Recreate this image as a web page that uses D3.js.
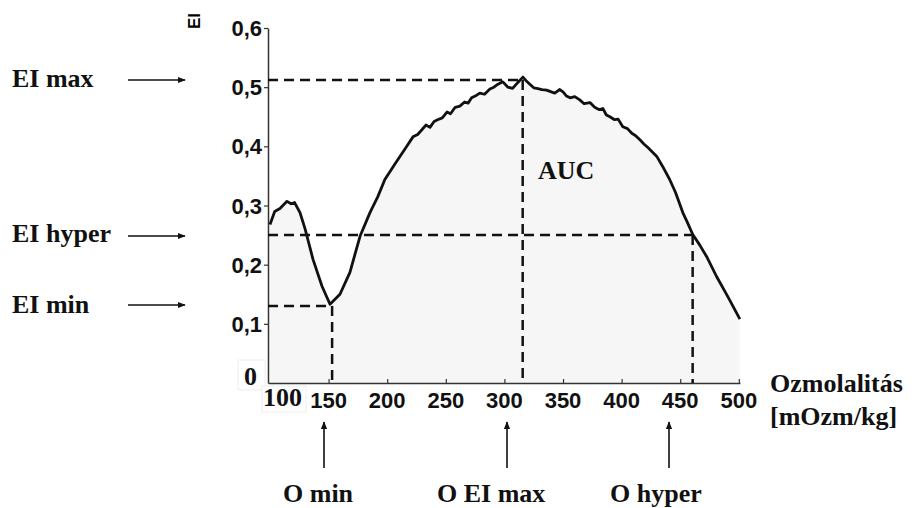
<!DOCTYPE html>
<html>
<head>
<meta charset="utf-8">
<script src="https://cdn.jsdelivr.net/npm/d3@7"></script>
<style>
  body { margin: 0; background: #fff; }
  .tick-label { font-family: "Liberation Sans", Arial, sans-serif; font-weight: bold; font-size: 22px; fill: #111; }
  .note { font-family: "Liberation Serif", "Times New Roman", serif; font-weight: bold; font-size: 26px; fill: #111; }
</style>
</head>
<body>
<div id="chart"></div>
<script>
// 1. Data
const osmolality = [100, 104, 108.5, 114.5, 118, 121, 125.6, 130, 136.7, 144.3, 151.2, 159.7, 168.2, 176.8,
  185.3, 192, 198, 206.6, 215, 222, 226, 229.6, 233, 236.5, 240, 243, 247, 251, 254, 258, 262, 266, 269, 272,
  276, 279, 283, 287.6, 291, 294.5, 298.7, 303, 307, 311.5, 315.8, 318.5, 321.7, 325, 327.7, 332, 336, 340,
  343, 347, 350, 353, 356, 360, 364, 368, 373, 377, 381, 384, 387, 390, 394, 397, 401, 405, 408.7, 412,
  415.6, 419, 422.4, 426, 430, 435, 441, 446, 452.2, 456, 460.7, 466.7, 473, 481, 490.6, 500.9];
const eiValues = [0.268, 0.290, 0.295, 0.307, 0.303, 0.305, 0.288, 0.260, 0.209, 0.164, 0.133, 0.150, 0.187, 0.248,
  0.288, 0.315, 0.344, 0.370, 0.395, 0.416, 0.420, 0.428, 0.436, 0.432, 0.442, 0.445, 0.448, 0.458, 0.455, 0.466,
  0.468, 0.475, 0.473, 0.482, 0.486, 0.490, 0.488, 0.497, 0.500, 0.505, 0.509, 0.500, 0.498, 0.508, 0.517, 0.511,
  0.505, 0.499, 0.498, 0.496, 0.495, 0.492, 0.490, 0.496, 0.492, 0.485, 0.482, 0.484, 0.479, 0.472, 0.474, 0.466,
  0.462, 0.464, 0.453, 0.450, 0.445, 0.446, 0.433, 0.430, 0.422, 0.418, 0.411, 0.404, 0.398, 0.391, 0.383, 0.366,
  0.344, 0.322, 0.288, 0.272, 0.251, 0.233, 0.212, 0.180, 0.146, 0.108];

const xTicks = [150, 200, 250, 300, 350, 400, 450, 500];
const yTicks = [0.1, 0.2, 0.3, 0.4, 0.5, 0.6];

// reference points (osmolality, EI)
const eiMax = [315.6, 0.512];
const eiHyper = [460.6, 0.25];
const eiMin = [153, 0.13];

// 2. Size
const WIDTH = 915, HEIGHT = 508;
const svg = d3.select("#chart").append("svg")
  .attr("width", WIDTH)
  .attr("height", HEIGHT);

// 3. Scales
const xScale = d3.scaleLinear().domain([98.3, 501]).range([268, 740]);
const yScale = d3.scaleLinear().domain([0, 0.6]).range([383, 28]);

const points = osmolality.map((x, i) => ({ x: x, y: eiValues[i] }));

// 4. Area under the curve (AUC)
svg.append("path")
  .datum(points)
  .attr("fill", "#f6f6f6")
  .attr("d", d3.area().x(d => xScale(d.x)).y0(yScale(0)).y1(d => yScale(d.y)));

// 5. Axes
const xAxis = d3.axisBottom(xScale).tickValues(xTicks).tickSize(-4).tickSizeOuter(0).tickFormat("");
const yAxis = d3.axisLeft(yScale).tickValues(yTicks).tickSize(4).tickSizeOuter(0).tickFormat("");

const gx = svg.append("g").attr("transform", `translate(0,${yScale(0)})`).call(xAxis);
const gy = svg.append("g").attr("transform", `translate(${xScale.range()[0]},0)`).call(yAxis);
[gx, gy].forEach(g => {
  g.select(".domain").attr("stroke", "#333").attr("stroke-width", 1.5);
  g.selectAll(".tick line").attr("stroke", "#333").attr("stroke-width", 1.2);
});

svg.selectAll(".x-label")
  .data(xTicks)
  .enter()
  .append("text")
  .attr("class", "tick-label")
  .attr("x", d => xScale(d))
  .attr("y", 408)
  .attr("text-anchor", "middle")
  .text(d => d);

svg.selectAll(".y-label")
  .data(yTicks)
  .enter()
  .append("text")
  .attr("class", "tick-label")
  .attr("x", 262)
  .attr("y", d => yScale(d) + 8)
  .attr("text-anchor", "end")
  .text(d => d.toFixed(1).replace(".", ","));

// pasted boxes for "0" and "100"
svg.append("rect").attr("x", 238).attr("y", 360).attr("width", 27).attr("height", 30)
  .attr("fill", "#fff").attr("stroke", "#eee");
svg.append("text").attr("class", "note").attr("x", 244).attr("y", 385).text("0");
svg.append("rect").attr("x", 262).attr("y", 386).attr("width", 44).attr("height", 26)
  .attr("fill", "#fff").attr("stroke", "#eee");
svg.append("text").attr("class", "note").attr("x", 263).attr("y", 406).text("100");

// EI axis title
svg.append("text")
  .attr("transform", "translate(200,21) rotate(-90)")
  .attr("text-anchor", "middle")
  .style("font-family", "Liberation Sans, Arial, sans-serif")
  .style("font-weight", "bold")
  .style("font-size", "17px")
  .text("EI");

// 6. Dashed guide lines
const guides = [
  [[xScale.domain()[0], eiMax[1]], [eiMax[0], eiMax[1]]],
  [[eiMax[0], eiMax[1]], [eiMax[0], 0]],
  [[xScale.domain()[0], eiHyper[1]], [eiHyper[0], eiHyper[1]]],
  [[eiHyper[0], eiHyper[1]], [eiHyper[0], 0]],
  [[xScale.domain()[0], eiMin[1]], [eiMin[0], eiMin[1]]],
  [[eiMin[0], eiMin[1]], [eiMin[0], 0]]
];
svg.selectAll(".guide")
  .data(guides)
  .enter()
  .append("line")
  .attr("x1", d => xScale(d[0][0]))
  .attr("y1", d => yScale(d[0][1]))
  .attr("x2", d => xScale(d[1][0]))
  .attr("y2", d => yScale(d[1][1]))
  .attr("stroke", "#111")
  .attr("stroke-width", 2.5)
  .attr("stroke-dasharray", "10,6");

// 7. The curve
svg.append("path")
  .datum(points)
  .attr("fill", "none")
  .attr("stroke", "#111")
  .attr("stroke-width", 2.8)
  .attr("stroke-linejoin", "round")
  .attr("d", d3.line().x(d => xScale(d.x)).y(d => yScale(d.y)));

// 8. Annotations with arrows
svg.append("defs").append("marker")
  .attr("id", "head")
  .attr("viewBox", "0 0 10 10")
  .attr("refX", 9).attr("refY", 5)
  .attr("markerWidth", 5).attr("markerHeight", 5)
  .attr("orient", "auto")
  .append("path").attr("d", "M0,1 L10,5 L0,9 Z").attr("fill", "#111");

const leftNotes = [
  { text: "EI max", y: 87, arrowY: 80 },
  { text: "EI hyper", y: 242, arrowY: 236 },
  { text: "EI min", y: 313, arrowY: 305 }
];
leftNotes.forEach(n => {
  svg.append("text").attr("class", "note").attr("x", 12).attr("y", n.y).text(n.text);
  svg.append("line")
    .attr("x1", 128).attr("x2", 185).attr("y1", n.arrowY).attr("y2", n.arrowY)
    .attr("stroke", "#111").attr("stroke-width", 1.6)
    .attr("marker-end", "url(#head)");
});

const bottomNotes = [
  { text: "O min", x: 283, arrowX: 324 },
  { text: "O EI max", x: 437, arrowX: 507 },
  { text: "O hyper", x: 610, arrowX: 669 }
];
bottomNotes.forEach(n => {
  svg.append("text").attr("class", "note").attr("x", n.x).attr("y", 502).text(n.text);
  svg.append("line")
    .attr("x1", n.arrowX).attr("x2", n.arrowX).attr("y1", 468).attr("y2", 422)
    .attr("stroke", "#111").attr("stroke-width", 1.6)
    .attr("marker-end", "url(#head)");
});

svg.append("text").attr("class", "note").attr("x", 538).attr("y", 179).text("AUC");
svg.append("text").attr("class", "note").attr("x", 770).attr("y", 392).text("Ozmolalitás");
svg.append("text").attr("class", "note").attr("x", 770).attr("y", 425).text("[mOzm/kg]");
</script>
</body>
</html>
